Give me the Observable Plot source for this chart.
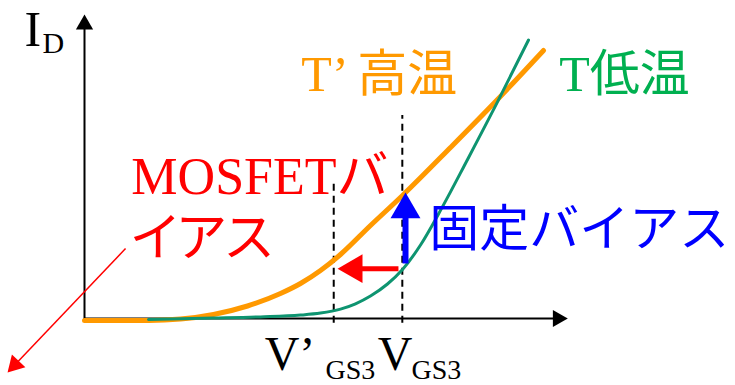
<!DOCTYPE html>
<html>
<head>
<meta charset="utf-8">
<script src="https://cdn.jsdelivr.net/npm/d3@7"></script>
<script src="https://cdn.jsdelivr.net/npm/@observablehq/plot@0.6"></script>
<style>
  html, body { margin: 0; padding: 0; background: #fff; }
  svg { display: block; }
</style>
</head>
<body>
<div id="chart"></div>
<script>
// ---- data (VGS in arbitrary units 0..10, ID in arbitrary units 0..10) ----
const hotV  = [0, 1.325, 1.988, 2.671, 3.375, 4.058, 4.472, 4.886, 5.300, 5.921, 6.584, 7.578, 8.551, 9.503];
const hotI  = [-0.066, -0.066, -0.02, 0.132, 0.411, 0.822, 1.151, 1.579, 2.105, 3.059, 4.046, 5.625, 7.204, 8.816];
const coldV = [1.325, 2.671, 3.644, 4.472, 4.886, 5.300, 5.611, 5.921, 6.273, 6.584, 6.957, 7.308, 7.578, 7.847, 8.551, 9.193];
const coldI = [-0.033, 0.013, 0.053, 0.112, 0.178, 0.309, 0.484, 0.740, 1.135, 1.612, 2.418, 3.375, 4.164, 4.977, 7.125, 9.161];

const vgs3Prime = 5.16;   // V'GS3
const vgs3 = 6.58;        // VGS3
const idAtBias = 1.64;    // ID of T curve at VGS3

const seriesLabels = ["T’ 高温", "T低温"];
const biasLabels = ["MOSFETバ", "イアス", "固定バイアス"];
const axisLabels = ["I", "D", "V’", "GS3", "V", "GS3"];

const hot = hotV.map((v, i) => ({v, id: hotI[i]}));
const cold = coldV.map((v, i) => ({v, id: coldI[i]}));

const ORANGE = "#FF9900", GREEN_LINE = "#0E9470", GREEN_TEXT = "#00B050";
const RED = "#FF0000", BLUE = "#0000FF";
const FONT = "'Liberation Serif', 'Times New Roman', 'Noto Sans CJK JP', serif";

const texts = [
  {t: axisLabels[0], x: -1.24, y: 8.98, s: 50, c: "#000"},
  {t: axisLabels[1], x: -0.87, y: 8.72, s: 30, c: "#000"},
  {t: axisLabels[2], x: 3.73, y: -1.71, s: 48, c: "#000"},
  {t: axisLabels[3], x: 4.99, y: -2.0, s: 28, c: "#000"},
  {t: axisLabels[4], x: 6.07, y: -1.71, s: 48, c: "#000"},
  {t: axisLabels[5], x: 6.77, y: -2.0, s: 28, c: "#000"},
  {t: seriesLabels[0], x: 4.49, y: 7.50, s: 50, c: ORANGE},
  {t: seriesLabels[1], x: 9.83, y: 7.50, s: 50, c: GREEN_TEXT},
  {t: biasLabels[0], x: 0.97, y: 4.11, s: 52, c: RED},
  {t: biasLabels[1], x: 0.97, y: 2.07, s: 52, c: RED},
  {t: biasLabels[2], x: 7.14, y: 2.40, s: 50, c: BLUE}
];

const chart = Plot.plot({
  width: 735,
  height: 385,
  marginLeft: 84,
  marginRight: 168,
  marginTop: 14,
  marginBottom: 67,
  x: {domain: [0, 10], axis: null},
  y: {domain: [0, 10], axis: null},
  style: {background: "#fff", overflow: "visible"},
  marks: [
    // axes
    Plot.ruleX([0], {y1: -0.07, y2: 9.6, stroke: "#000", strokeWidth: 2}),
    Plot.ruleY([0], {x1: 0, x2: 9.75, stroke: "#000", strokeWidth: 2}),
    Plot.dot([{x: 0, y: 9.67}], {x: "x", y: "y", symbol: "triangle", r: 6.4, fill: "#000", stroke: null}),
    Plot.dot([{x: 9.80, y: 0}], {x: "x", y: "y", symbol: "triangle", r: 6.4, fill: "#000", stroke: null, rotate: 90}),
    // dashed guides
    Plot.ruleX([vgs3Prime], {y1: -0.16, y2: 4.57, stroke: "#000", strokeWidth: 2, strokeDasharray: "7,5"}),
    Plot.ruleX([vgs3], {y1: -0.16, y2: 6.68, stroke: "#000", strokeWidth: 2, strokeDasharray: "7,5"}),
    // curves
    Plot.line(hot, {x: "v", y: "id", stroke: ORANGE, strokeWidth: 5, curve: "monotone-x"}),
    Plot.line(cold, {x: "v", y: "id", stroke: GREEN_LINE, strokeWidth: 3, curve: "monotone-x"}),
    // red horizontal arrow (shift of bias point)
    Plot.link([{x1: vgs3 - 0.08, x2: 5.62, y: idAtBias}], {x1: "x1", x2: "x2", y1: "y", y2: "y", stroke: RED, strokeWidth: 5}),
    Plot.dot([{x: 5.584, y: idAtBias}], {x: "x", y: "y", symbol: "triangle", r: 10.7, fill: RED, stroke: null, rotate: -90}),
    // blue vertical arrow (fixed bias)
    Plot.link([{x: 6.646, y1: 1.81, y2: 3.45}], {x1: "x", x2: "x", y1: "y1", y2: "y2", stroke: BLUE, strokeWidth: 6}),
    Plot.dot([{x: 6.646, y: 3.58}], {x: "x", y: "y", symbol: "triangle", r: 11.1, fill: BLUE, stroke: null}),
    // red diagonal arrow
    Plot.link([{x1: 0.85, y1: 2.30, x2: -1.44, y2: -1.52}], {x1: "x1", y1: "y1", x2: "x2", y2: "y2", stroke: RED, strokeWidth: 1.5}),
    Plot.dot([{x: -1.44, y: -1.52}], {x: "x", y: "y", symbol: "triangle", r: 6.9, fill: RED, stroke: null, rotate: 223.6}),
    // texts
    Plot.text(texts, {x: "x", y: "y", text: "t", fill: "c", fontSize: "s", textAnchor: "start", lineAnchor: "bottom", fontFamily: FONT})
  ]
});
// proportional katakana for the second line of the red label
d3.select(chart).selectAll("text")
  .filter(function () { return this.textContent === biasLabels[1]; })
  .style("font-feature-settings", '"palt"');
document.getElementById("chart").appendChild(chart);
</script>
</body>
</html>
